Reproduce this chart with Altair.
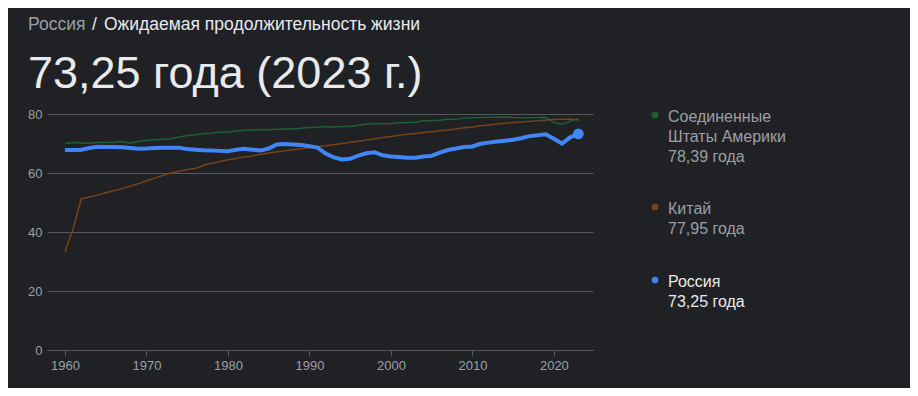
import altair as alt
import pandas as pd

years = list(range(1960, 2024))

russia = [67.8, 67.8, 67.9, 68.5, 68.9, 68.8, 68.8, 68.7, 68.5, 68.2,
          68.3, 68.5, 68.6, 68.6, 68.6, 68.1, 67.9, 67.7, 67.6, 67.5,
          67.4, 67.9, 68.2, 67.9, 67.6, 68.3, 69.7, 69.8, 69.7, 69.5,
          69.1, 68.6, 66.6, 65.3, 64.6, 64.8, 65.9, 66.7, 67.0, 66.0,
          65.6, 65.4, 65.2, 65.2, 65.6, 65.8, 66.9, 67.8, 68.3, 68.8,
          69.0, 69.9, 70.3, 70.7, 70.9, 71.3, 71.8, 72.5, 72.8, 73.1,
          71.6, 70.0, 72.1, 73.25]

usa = [70.0, 70.3, 70.2, 70.1, 70.3, 70.3, 70.4, 70.7, 70.1, 70.7,
       71.0, 71.3, 71.4, 71.6, 72.2, 72.7, 73.0, 73.4, 73.5, 73.9,
       73.8, 74.2, 74.5, 74.6, 74.7, 74.7, 74.8, 74.9, 74.9, 75.2,
       75.4, 75.5, 75.8, 75.6, 75.8, 75.8, 76.2, 76.6, 76.7, 76.7,
       76.8, 77.0, 77.1, 77.2, 77.7, 77.7, 77.9, 78.2, 78.2, 78.6,
       78.7, 78.8, 78.9, 78.9, 79.0, 78.8, 78.7, 78.7, 78.8, 78.9,
       77.1, 76.5, 77.6, 78.39]

china = [33.3, 41.0, 51.2, 51.9, 52.5, 53.3, 54.0, 54.7, 55.5, 56.4,
         57.3, 58.2, 59.2, 60.0, 60.6, 61.2, 61.5, 62.6, 63.3, 63.9,
         64.5, 64.9, 65.4, 65.8, 66.3, 66.8, 67.2, 67.5, 67.9, 68.2,
         68.6, 68.9, 69.2, 69.6, 70.0, 70.4, 70.8, 71.2, 71.6, 72.0,
         72.4, 72.8, 73.1, 73.4, 73.7, 74.0, 74.3, 74.6, 74.9, 75.3,
         75.6, 76.0, 76.3, 76.6, 76.9, 77.1, 77.3, 77.5, 77.7, 78.0,
         78.1, 78.2, 78.3, 77.95]

x_ticks = [1960, 1970, 1980, 1990, 2000, 2010, 2020]
y_ticks = [0, 20, 40, 60, 80]

series_names = ["Соединенные Штаты Америки", "Китай", "Россия"]
series_colors = ["#1f5f37", "#774318", "#4285f4"]


def fmt(v):
    return f"{v:.2f}".replace(".", ",") + " года"


rows = []
for name, vals in zip(series_names, [usa, china, russia]):
    for yr, v in zip(years, vals):
        rows.append({"year": yr, "value": v, "series": name})
df = pd.DataFrame(rows)

FONT = "Arial, 'Liberation Sans', sans-serif"
GRAY = "#9aa0a6"
WHITE = "#e8eaed"
GRID = "#56585c"

xscale = alt.Scale(domain=[1957.8, 2024.8], nice=False, zero=False)
yscale = alt.Scale(domain=[0, 80], nice=False)
cscale = alt.Scale(domain=series_names, range=series_colors)

base = alt.Chart(df).encode(
    x=alt.X("year:Q", scale=xscale,
            axis=alt.Axis(values=x_ticks, format="d", title=None, grid=False,
                          domainColor=GRID, tickColor=GRID, tickSize=6,
                          labelColor=GRAY, labelFontSize=13, labelFont=FONT,
                          labelPadding=3)),
    y=alt.Y("value:Q", scale=yscale,
            axis=alt.Axis(values=y_ticks, title=None, grid=True, gridColor=GRID,
                          domain=False, ticks=False, labelColor=GRAY,
                          labelFontSize=13, labelFont=FONT, labelPadding=5)),
    color=alt.Color("series:N", scale=cscale, legend=None),
)

us_line = base.transform_filter(alt.datum.series == series_names[0]).mark_line(strokeWidth=1.5)
cn_line = base.transform_filter(alt.datum.series == series_names[1]).mark_line(strokeWidth=1.5)
ru_line = base.transform_filter(alt.datum.series == series_names[2]).mark_line(strokeWidth=4)
ru_dot = base.transform_filter(
    (alt.datum.series == series_names[2]) & (alt.datum.year == years[-1])
).mark_circle(size=115, opacity=1)

one = pd.DataFrame({"a": [0]})


def txt(s, x, y, size, color):
    return alt.Chart(one).mark_text(
        text=s, align="left", baseline="alphabetic", font=FONT,
        fontSize=size, color=color
    ).encode(x=alt.value(x), y=alt.value(y))


def dot(x, y, color):
    return alt.Chart(one).mark_circle(size=45, opacity=1, color=color).encode(
        x=alt.value(x), y=alt.value(y))


header = [
    txt("Россия", -19, -84, 17.5, GRAY),
    txt("/", 45, -84, 17.5, WHITE),
    txt("Ожидаемая продолжительность жизни", 57, -84, 17.5, WHITE),
    txt(f"{fmt(russia[-1]).replace(' года', '')} года ({years[-1]} г.)", -19, -26, 45, WHITE),
]

legend = [
    dot(608, 1, series_colors[0]),
    txt("Соединенные", 621, 8, 16, GRAY),
    txt("Штаты Америки", 621, 28, 16, GRAY),
    txt(fmt(usa[-1]), 621, 48, 16, GRAY),
    dot(608, 93, series_colors[1]),
    txt("Китай", 621, 100, 16, GRAY),
    txt(fmt(china[-1]), 621, 120, 16, GRAY),
    dot(608, 166, series_colors[2]),
    txt("Россия", 621, 173, 16, WHITE),
    txt(fmt(russia[-1]), 621, 193, 16, WHITE),
]

chart = alt.layer(us_line, cn_line, ru_line, ru_dot, *header, *legend).properties(
    width=546, height=236,
    autosize=alt.AutoSizeParams(type="none"),
    padding={"left": 39, "top": 106, "right": 317, "bottom": 38},
    background="#202124",
).configure_view(strokeWidth=0)

chart.save("out.html", embed_options={"renderer": "svg", "actions": False})
